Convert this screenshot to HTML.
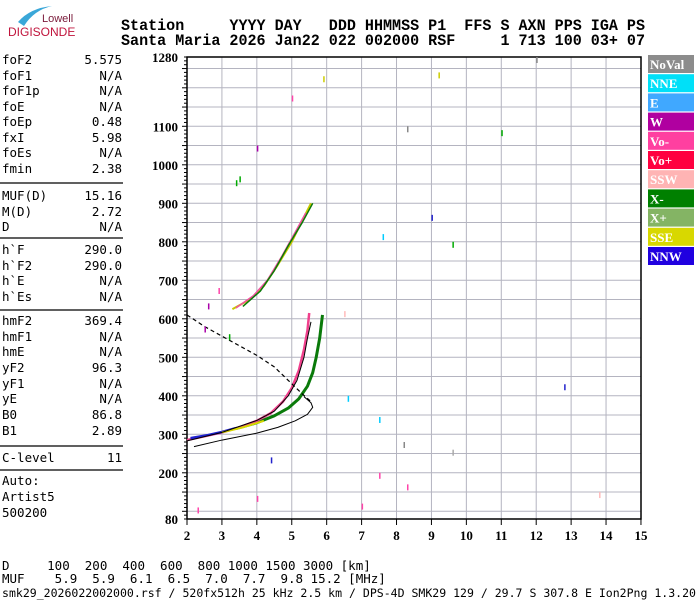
<!DOCTYPE html>
<html><head><meta charset="utf-8"><style>
body{margin:0;background:#fff;width:700px;height:600px;overflow:hidden;position:relative}
svg{position:absolute;left:0;top:0}
</style></head><body>
<svg id="s" width="700" height="600" xmlns="http://www.w3.org/2000/svg">
<path d="M18 22 Q30 8 52 6 Q34 10 24 26 Z" fill="#3aa7d8"/>
<text x="42" y="22" font-family="Liberation Sans,sans-serif" font-size="11" fill="#7a1a3a">Lowell</text>
<text x="8" y="36" font-family="Liberation Sans,sans-serif" font-size="12" fill="#c0143c">DIGISONDE</text>
<g font-family="Liberation Mono,monospace" font-weight="bold" font-size="16" fill="#000" xml:space="preserve">
<text x="121" y="30" textLength="524" lengthAdjust="spacingAndGlyphs" xml:space="preserve">Station     YYYY DAY   DDD HHMMSS P1  FFS S AXN PPS IGA PS</text>
<text x="121" y="45" textLength="524" lengthAdjust="spacingAndGlyphs" xml:space="preserve">Santa Maria 2026 Jan22 022 002000 RSF     1 713 100 03+ 07</text>
</g>
<g id="left" font-family="DejaVu Sans Mono,monospace" font-size="12.5" fill="#000"></g>
<g id="plot"></g>
<g font-family="DejaVu Sans Mono,monospace" font-size="12.5" fill="#000">
<text x="2" y="570" xml:space="preserve">D     100  200  400  600  800 1000 1500 3000 [km]</text>
<text x="2" y="583" xml:space="preserve">MUF    5.9  5.9  6.1  6.5  7.0  7.7  9.8 15.2 [MHz]</text>
<text x="2" y="597" font-size="11.5" textLength="694" lengthAdjust="spacingAndGlyphs">smk29_2026022002000.rsf / 520fx512h 25 kHz 2.5 km / DPS-4D SMK29 129 / 29.7 S 307.8 E Ion2Png 1.3.20</text>
</g>
</svg>
<script>
var NS="http://www.w3.org/2000/svg";
function el(p,t,a,txt){var e=document.createElementNS(NS,t);for(var k in a)e.setAttribute(k,a[k]);if(txt!=null)e.textContent=txt;p.appendChild(e);return e;}
var L=document.getElementById('left');
var rows=[["foF2","5.575",60],["foF1","N/A",76],["foF1p","N/A",91],["foE","N/A",107],["foEp","0.48",122],["fxI","5.98",138],["foEs","N/A",153],["fmin","2.38",169],
["MUF(D)","15.16",196],["M(D)","2.72",212],["D","N/A",227],
["h`F","290.0",250],["h`F2","290.0",266],["h`E","N/A",281],["h`Es","N/A",297],
["hmF2","369.4",321],["hmF1","N/A",337],["hmE","N/A",352],["yF2","96.3",368],["yF1","N/A",384],["yE","N/A",399],["B0","86.8",415],["B1","2.89",431],
["C-level","11",458]];
rows.forEach(function(r){el(L,'text',{x:2,y:r[2]+4},r[0]);el(L,'text',{x:122,y:r[2]+4,'text-anchor':'end'},r[1]);});
[183,238,310,446,470].forEach(function(y){el(L,'line',{x1:0,x2:123,y1:y,y2:y,stroke:'#000','stroke-width':1.3});});
el(L,'text',{x:2,y:485},"Auto:");el(L,'text',{x:2,y:501},"Artist5");el(L,'text',{x:2,y:517},"500200");
var P=document.getElementById('plot');
function X(f){return 187+(f-2)*34.92;}
function Y(h){return 57+(1280-h)*0.385;}
for(var h=100;h<=1250;h+=50)el(P,'line',{x1:187,x2:641,y1:Y(h),y2:Y(h),stroke:'#b4b4c0','stroke-width':1});
for(var f=3;f<=14;f++)el(P,'line',{x1:X(f),x2:X(f),y1:57,y2:519,stroke:'#b4b4c0','stroke-width':1});
el(P,'rect',{x:187,y:57,width:454,height:462,fill:'none',stroke:'#000','stroke-width':1.5});
for(var h=80;h<=1280;h+=10){var w=(h%50==0)?5:3;el(P,'line',{x1:187-w,x2:187,y1:Y(h),y2:Y(h),stroke:'#000','stroke-width':1});}
[80,200,300,400,500,600,700,800,900,1000,1100,1280].forEach(function(h){el(P,'text',{x:178,y:Y(h)+5,'text-anchor':'end','font-family':'Liberation Serif,serif','font-weight':'bold','font-size':13},h);});
for(var f=2;f<=15;f++){el(P,'line',{x1:X(f),x2:X(f),y1:519,y2:525,stroke:'#000'});el(P,'text',{x:X(f),y:540,'text-anchor':'middle','font-family':'Liberation Serif,serif','font-weight':'bold','font-size':13},f);}
function poly(pts,c,w,dash){var d=pts.map(function(p){return X(p[0])+','+Y(p[1]);}).join(' ');var a={points:d,fill:'none',stroke:c,'stroke-width':w,'stroke-linejoin':'round'};if(dash)a['stroke-dasharray']=dash;el(P,'polyline',a);}
poly([[3.4,315],[4,330],[4.5,348],[4.9,368],[5.2,392],[5.45,425],[5.6,460],[5.7,500],[5.8,550],[5.88,610]],'#0a7a0a',3);
poly([[2,285],[2.5,295],[3,305],[3.5,318],[4,335],[4.4,355],[4.75,385],[5.0,420],[5.2,465],[5.35,520],[5.45,570],[5.5,615]],'#f0408c',2.5);
poly([[2.1,290],[2.6,298],[3,306],[3.4,316]],'#2020d0',2.5);
poly([[3,305],[3.6,318],[4.2,335]],'#d8d800',2);
poly([[2,283],[3,305],[4,336],[4.5,360],[4.9,400],[5.15,440],[5.35,500],[5.45,550],[5.55,592]],'#000',1);
poly([[2.2,268],[3,285],[4,303],[4.6,318],[5.1,335],[5.45,352],[5.6,370],[5.55,382],[5.35,398]],'#000',1);
poly([[2,610],[2.5,580],[3,555],[3.5,530],[4,505],[4.5,475],[4.9,440],[5.3,405],[5.55,385]],'#000',1.2,'4,3');
poly([[3.3,625],[3.8,650],[4.2,685],[4.6,740],[5,800],[5.3,855],[5.55,900]],'#c8c800',2);
poly([[3.4,628],[3.9,660],[4.3,700],[4.7,760],[5.1,825],[5.4,875]],'#f050a0',1.5);
poly([[3.6,632],[4.1,672],[4.5,725],[4.9,790],[5.3,850],[5.6,900]],'#0a7a0a',1.5);
var dots=[[2.6,640,'#a0a'],[2.9,680,'#f4a'],[2.5,580,'#a0a'],[3.2,560,'#0a0'],[3.4,960,'#0a0'],[3.5,970,'#0a0'],[4,1050,'#a0a'],[6.6,400,'#0cf'],[7.5,345,'#0cf'],[7.6,820,'#0cf'],[8.3,1100,'#888'],[9,870,'#22c'],[9.6,800,'#0a0'],[11,1090,'#0a0'],[12,1280,'#888'],[12.8,430,'#22c'],[13.8,150,'#fbb'],[6.5,620,'#fbb'],[2.3,110,'#f4a'],[4.4,240,'#22c'],[7,120,'#f4a'],[9.2,1240,'#cc0'],[5,1180,'#f4a'],[5.9,1230,'#cc0'],[8.2,280,'#888'],[9.6,260,'#aaa'],[4,140,'#f4a'],[8.3,170,'#f4a'],[7.5,200,'#f4a']];
dots.forEach(function(d){el(P,'rect',{x:X(d[0]),y:Y(d[1]),width:1.5,height:6,fill:d[2]});});
var lg=[["NoVal","#8c8c8c"],["NNE","#00e0f8"],["E","#40a8ff"],["W","#b000a0"],["Vo-","#ff40a0"],["Vo+","#ff0040"],["SSW","#ffb4b4"],["X-","#008000"],["X+","#84b464"],["SSE","#d8d800"],["NNW","#2000e0"]];
lg.forEach(function(l,i){var y=55+i*19.2;el(P,'rect',{x:648,y:y,width:46,height:18,fill:l[1]});el(P,'text',{x:650,y:y+14,'font-family':'Liberation Serif,serif','font-weight':'bold','font-size':13,fill:'#fff'},l[0]);});
</script>
</body></html>
